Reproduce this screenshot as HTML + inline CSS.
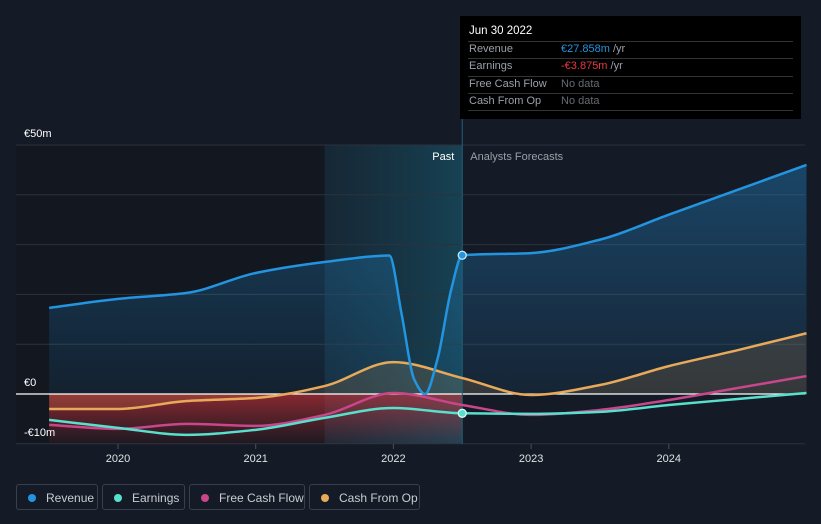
<!DOCTYPE html>
<html><head><meta charset="utf-8"><style>
body{margin:0;background:#151b26;font-family:"Liberation Sans",sans-serif;}
#wrap{position:relative;width:821px;height:524px;overflow:hidden;background:#151b26;}
.tt{position:absolute;left:460px;top:16px;width:341px;height:103px;background:#000;}
.tt div{position:absolute;font-size:11px;color:#9aa0a8;}
.leg{position:absolute;top:484px;height:26px;border:1px solid #3a404b;border-radius:3px;font-size:12px;color:#c9ccd1;line-height:26px;box-sizing:border-box;}
.leg span{display:inline-block;width:8px;height:8px;border-radius:50%;margin:0 10px 0 11px;}
</style></head><body>
<div id="wrap">
<svg id="chart" width="821" height="524" style="position:absolute;left:0;top:0"></svg>
<div class="tt">
<div style="left:9px;top:9px;color:#fff;font-size:11.5px">Jun 30 2022</div>
<div style="left:9px;top:27px">Revenue</div>
<div style="left:101px;top:27px;color:#2394df">€27.858m <span style="color:#9aa0a8">/yr</span></div>
<div style="left:9px;top:44px">Earnings</div>
<div style="left:101px;top:44px;color:#e8373e">-€3.875m <span style="color:#9aa0a8">/yr</span></div>
<div style="left:9px;top:62px">Free Cash Flow</div>
<div style="left:101px;top:62px;color:#666b73">No data</div>
<div style="left:9px;top:79px">Cash From Op</div>
<div style="left:101px;top:79px;color:#666b73">No data</div>
<div style="left:8px;top:25px;width:325px;height:1px;background:#333"></div>
<div style="left:8px;top:42px;width:325px;height:1px;background:#333"></div>
<div style="left:8px;top:60px;width:325px;height:1px;background:#333"></div>
<div style="left:8px;top:77px;width:325px;height:1px;background:#333"></div>
<div style="left:8px;top:94px;width:325px;height:1px;background:#333"></div>
</div>
<div class="leg" style="left:16px;width:82px"><span style="background:#2394df"></span>Revenue</div>
<div class="leg" style="left:102px;width:83px"><span style="background:#58e0cc"></span>Earnings</div>
<div class="leg" style="left:189px;width:116px"><span style="background:#c8468a"></span>Free Cash Flow</div>
<div class="leg" style="left:309px;width:111px"><span style="background:#e8aa5a"></span>Cash From Op</div>
</div>
<script>
const revYears=[2019.5,2020,2020.5,2021,2021.5,2021.97,2022.06,2022.15,2022.23,2022.32,2022.42,2022.5,2023,2023.5,2024,2024.5,2025];
const revVals=[17.3,19.1,20.3,24.3,26.5,27.8,16,3,0,7,21,27.858,28.3,31,36,41,46];
const years=[2019.5,2020,2020.5,2021,2021.5,2022,2022.5,2023,2023.5,2024,2024.5,2025];
const earnVals=[-5.2,-6.8,-8.2,-7.2,-4.8,-2.8,-3.875,-4,-3.6,-2.2,-1,0.2];
const fcfVals=[-6.2,-7,-6,-6.4,-4.2,0.2,-2.2,-4.2,-3.2,-1.2,1.2,3.6];
const cfoVals=[-3,-3,-1.4,-0.8,1.6,6.4,3.2,-0.2,1.8,5.6,8.8,12.2];
const yTicks=[50,0,-10];const yTickLabels=["€50m","€0","-€10m"];
const xTicks=[2020,2021,2022,2023,2024];const xTickLabels=["2020","2021","2022","2023","2024"];
const NOW=2022.5;
const X=t=>118+(t-2020)*137.7, Y=v=>394-v*4.98;
const svg=document.getElementById('chart');const NS='http://www.w3.org/2000/svg';
function el(tag,attrs,parent){const e=document.createElementNS(NS,tag);for(const k in attrs)e.setAttribute(k,attrs[k]);(parent||svg).appendChild(e);return e;}
function path(xs,vs){const px=xs.map(X),py=vs.map(Y),n=px.length;
const dx=[],s=[];for(let i=0;i<n-1;i++){dx.push(px[i+1]-px[i]);s.push((py[i+1]-py[i])/dx[i]);}
const m=[s[0]];for(let i=1;i<n-1;i++){if(s[i-1]*s[i]<=0)m.push(0);else{const w1=2*dx[i]+dx[i-1],w2=dx[i]+2*dx[i-1];m.push((w1+w2)/(w1/s[i-1]+w2/s[i]));}}m.push(s[n-2]);
let d='M'+px[0]+','+py[0];for(let i=0;i<n-1;i++){const h=dx[i]/3;d+=' C'+(px[i]+h)+','+(py[i]+m[i]*h)+' '+(px[i+1]-h)+','+(py[i+1]-m[i+1]*h)+' '+px[i+1]+','+py[i+1];}return d;}
const defs=el('defs',{});
defs.innerHTML='<linearGradient id="rg" x1="0" y1="0" x2="0" y2="1"><stop offset="0" stop-color="#2394df" stop-opacity="0.35"/><stop offset="1" stop-color="#2394df" stop-opacity="0.08"/></linearGradient><linearGradient id="ng" x1="0" y1="0" x2="0" y2="1"><stop offset="0" stop-color="#e8373e" stop-opacity="0.55"/><stop offset="1" stop-color="#e8373e" stop-opacity="0.05"/></linearGradient><linearGradient id="pg" x1="0" y1="0" x2="1" y2="0"><stop offset="0" stop-color="#1a6f8a" stop-opacity="0.15"/><stop offset="1" stop-color="#1a8aa8" stop-opacity="0.35"/></linearGradient>';
let r=el('rect',{x:16,y:145,width:X(2021.5)-16,height:299,fill:'#121720'});
r=el('rect',{x:X(2021.5),y:145,width:X(NOW)-X(2021.5),height:299,fill:'url(#pg)'});
[50,40,30,20,10,-10].forEach(v=>{const g=el('line',{x1:16,x2:805,y1:Y(v),y2:Y(v),stroke:'#2c323c','stroke-width':1});});
let a=el('path',{d:path(revYears,revVals)+' L'+X(2025)+','+Y(0)+' L'+X(2019.5)+','+Y(0)+'Z',fill:'url(#rg)'});
a=el('rect',{x:X(2019.5),y:Y(0),width:X(NOW)-X(2019.5),height:Y(-10)-Y(0),fill:'url(#ng)'});
a=el('path',{d:path(years,cfoVals)+' L'+X(2025)+','+Y(0)+' L'+X(2019.5)+','+Y(0)+'Z',fill:'#e8aa5a','fill-opacity':0.15});
let z=el('line',{x1:16,x2:805,y1:Y(0),y2:Y(0),stroke:'#fff','stroke-width':1.2});
z=el('line',{x1:X(NOW),x2:X(NOW),y1:16,y2:444,stroke:'#1f5f78','stroke-width':1});
[['cfo',years,cfoVals,'#e8aa5a'],['fcf',years,fcfVals,'#c8468a'],['earnings',years,earnVals,'#58e0cc'],['revenue',revYears,revVals,'#2394df']].forEach(s=>{
const l=el('path',{d:path(s[1],s[2]),fill:'none',stroke:s[3],'stroke-width':2.5});});
let d=el('circle',{cx:X(NOW),cy:Y(27.858),r:4,fill:'#2394df',stroke:'#cfe8fa','stroke-width':1.3});
d=el('circle',{cx:X(NOW),cy:Y(-3.875),r:4,fill:'#58e0cc',stroke:'#d6fff8','stroke-width':1.3});
yTicks.forEach((v,i)=>{const t=el('text',{x:24,y:Y(v)-8,fill:'#fff','font-size':11});t.textContent=yTickLabels[i];});
xTicks.forEach((v,i)=>{const k=el('line',{x1:X(v),x2:X(v),y1:444,y2:449,stroke:'#4a505a'});
const t=el('text',{x:X(v),y:462,fill:'#e0e2e5','font-size':11,'text-anchor':'middle'});t.textContent=xTickLabels[i];});
let t=el('text',{x:X(NOW)-8,y:160,fill:'#fff','font-size':11,'text-anchor':'end'});t.textContent='Past';
t=el('text',{x:X(NOW)+8,y:160,fill:'#9aa0a8','font-size':11});t.textContent='Analysts Forecasts';
</script>
</body></html>
